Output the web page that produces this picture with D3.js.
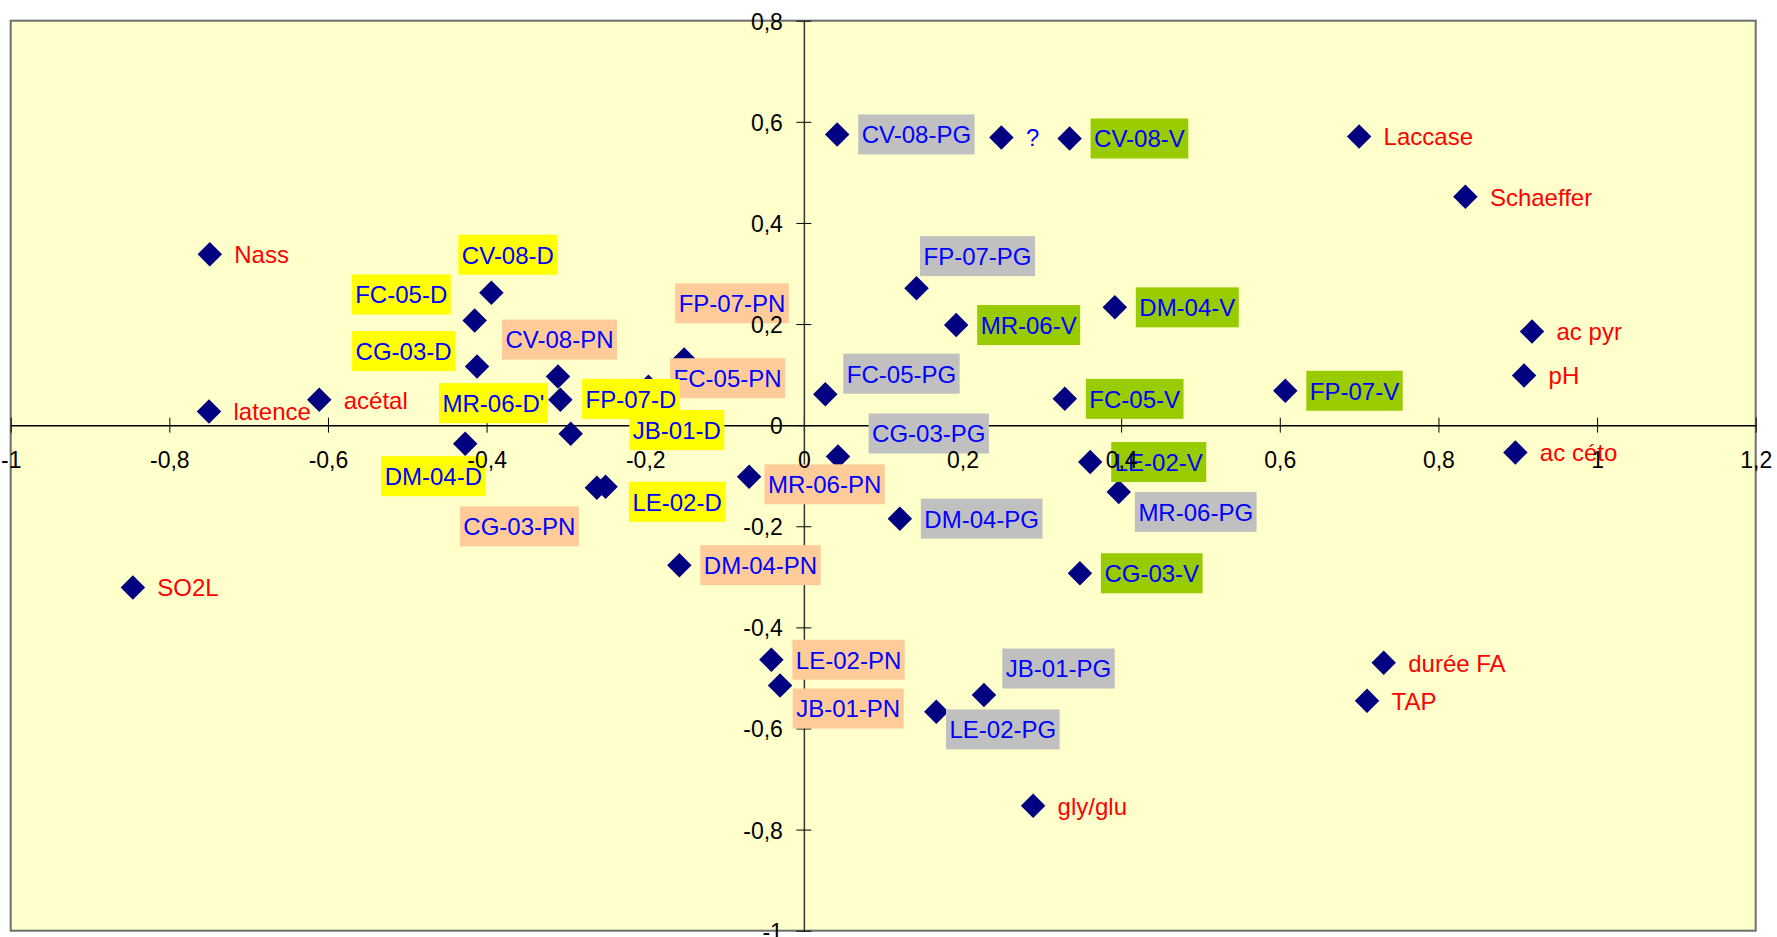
<!DOCTYPE html>
<html>
<head>
<meta charset="utf-8">
<script src="https://cdn.jsdelivr.net/npm/d3@7"></script>
<style>
  html, body { margin: 0; padding: 0; background: #ffffff; overflow: hidden; }
  svg { display: block; }
</style>
</head>
<body>
<svg id="chart" width="1777" height="937"></svg>
<script>
// ---- Sample scores on axes 1 and 2 ----
const sampleLabels = [
  "CV-08-D", "FC-05-D", "CG-03-D", "MR-06-D'", "FP-07-D", "JB-01-D", "DM-04-D", "LE-02-D",
  "CV-08-PN", "FC-05-PN", "CG-03-PN", "MR-06-PN", "FP-07-PN", "DM-04-PN", "LE-02-PN", "JB-01-PN",
  "CV-08-PG", "FP-07-PG", "FC-05-PG", "CG-03-PG", "DM-04-PG", "MR-06-PG", "LE-02-PG", "JB-01-PG",
  "CV-08-V", "MR-06-V", "DM-04-V", "FC-05-V", "FP-07-V", "LE-02-V", "CG-03-V", "?"
];
const sampleGroups = [
  "D", "D", "D", "D", "D", "D", "D", "D",
  "PN", "PN", "PN", "PN", "PN", "PN", "PN", "PN",
  "PG", "PG", "PG", "PG", "PG", "PG", "PG", "PG",
  "V", "V", "V", "V", "V", "V", "V", "none"
];
const sampleX = [
  -0.394, -0.415, -0.412, -0.307, -0.196, -0.294, -0.427, -0.250,
  -0.310, -0.151, -0.261, -0.069, -0.091, -0.157, -0.041, -0.030,
   0.042,  0.142,  0.027,  0.043,  0.121,  0.397,  0.167,  0.227,
   0.335,  0.192,  0.392,  0.329,  0.607,  0.361,  0.348,  0.249
];
const sampleY = [
   0.262,  0.207,  0.116,  0.050,  0.076, -0.017, -0.037, -0.122,
   0.096,  0.130, -0.124, -0.102,  0.241, -0.277, -0.464, -0.515,
   0.575,  0.271,  0.061, -0.062, -0.185, -0.132, -0.567, -0.534,
   0.567,  0.198,  0.233,  0.052,  0.068, -0.073, -0.293,  0.569
];

// ---- Variable loadings ----
const variableLabels = [
  "Nass", "latence", "acétal", "SO2L", "Laccase", "Schaeffer",
  "ac pyr", "pH", "ac céto", "durée FA", "TAP", "gly/glu"
];
const variableX = [-0.749, -0.750, -0.611, -0.846, 0.700, 0.834, 0.918, 0.908, 0.897, 0.731, 0.710, 0.289];
const variableY = [ 0.338,  0.027,  0.050, -0.321, 0.571, 0.452, 0.185, 0.098, -0.054, -0.470, -0.545, -0.753];

// ---- Axis ticks ----
const xTickValues = [-1, -0.8, -0.6, -0.4, -0.2, 0, 0.2, 0.4, 0.6, 0.8, 1, 1.2];
const xTickLabels = ["-1", "-0,8", "-0,6", "-0,4", "-0,2", "0", "0,2", "0,4", "0,6", "0,8", "1", "1,2"];
const yTickValues = [-1, -0.8, -0.6, -0.4, -0.2, 0, 0.2, 0.4, 0.6, 0.8];
const yTickLabels = ["-1", "-0,8", "-0,6", "-0,4", "-0,2", "0", "0,2", "0,4", "0,6", "0,8"];

// ---- Layout and styling ----
const plot = { left: 10.7, right: 1755.7, top: 20.7, bottom: 930.7 };
const groupFill = { D: "#FFFF00", PN: "#FFCC99", PG: "#C0C0C0", V: "#99CC00", none: "none", variable: "none" };
const labelFont = "'Liberation Sans', Arial, sans-serif";
const labelSize = 24;
const tickSize = 23;
const boxHeight = 40;
const boxPad = 3.5;
const defaultNudge = { dx: 21, dy: 0 };
// manual placement of label boxes (pixels from the marker centre)
const labelNudge = {
  "CV-08-D": { dx: -33, dy: -38 },
  "FC-05-D": { dx: -123, dy: -26 },
  "CG-03-D": { dx: -125, dy: -15.4 },
  "CV-08-PN": { dx: -56, dy: -37 },
  "MR-06-D'": { dx: -121.4, dy: 3.3 },
  "FP-07-D": { dx: -66.3, dy: 12.2 },
  "JB-01-D": { dx: 58.6, dy: -3.7 },
  "DM-04-D": { dx: -84, dy: 32.3 },
  "CG-03-PN": { dx: -137, dy: 38.6 },
  "LE-02-D": { dx: 23.3, dy: 15 },
  "FC-05-PN": { dx: -14, dy: 18.8 },
  "FP-07-PN": { dx: -56.5, dy: 0 },
  "MR-06-PN": { dx: 15.3, dy: 7.6 },
  "JB-01-PN": { dx: 12.6, dy: 23 },
  "FP-07-PG": { dx: 3.5, dy: -32 },
  "FC-05-PG": { dx: 18, dy: -20.6 },
  "CG-03-PG": { dx: 30.6, dy: -23 },
  "MR-06-PG": { dx: 16.1, dy: 20 },
  "LE-02-PG": { dx: 9.6, dy: 17.6 },
  "JB-01-PG": { dx: 18.4, dy: -26.6 }
};

const samples = sampleLabels.map((label, i) => ({
  label, group: sampleGroups[i], x: sampleX[i], y: sampleY[i], color: "#0000FF"
}));
const variables = variableLabels.map((label, i) => ({
  label, group: "variable", x: variableX[i], y: variableY[i], color: "#FF0000"
}));
const allPoints = samples.concat(variables);

const svg = d3.select("#chart");
const x = d3.scaleLinear().domain([-1, 1.2]).range([plot.left, plot.right]);
const y = d3.scaleLinear().domain([-1, 0.8]).range([plot.bottom, plot.top]);

// plot background
svg.append("rect")
  .attr("x", plot.left).attr("y", plot.top)
  .attr("width", plot.right - plot.left).attr("height", plot.bottom - plot.top)
  .attr("fill", "#FFFFCC")
  .attr("stroke", "#6e6e6e").attr("stroke-width", 2);

// axis lines and tick marks through the origin
const xAxisLines = svg.append("g")
  .attr("transform", `translate(0,${y(0)})`)
  .call(d3.axisBottom(x).tickValues(xTickValues).tickFormat("").tickSizeOuter(0));
xAxisLines.selectAll(".tick line").attr("y1", -7.5).attr("y2", 7.5).attr("stroke", "#000");
xAxisLines.select(".domain").attr("stroke", "#000").attr("stroke-width", 1.5);
xAxisLines.selectAll("text").remove();

const yAxisLines = svg.append("g")
  .attr("transform", `translate(${x(0)},0)`)
  .call(d3.axisLeft(y).tickValues(yTickValues).tickFormat("").tickSizeOuter(0));
yAxisLines.selectAll(".tick line").attr("x1", -7.5).attr("x2", 7.5).attr("stroke", "#000");
yAxisLines.select(".domain").attr("stroke", "#333").attr("stroke-width", 1.5);
yAxisLines.selectAll("text").remove();

// diamond markers
const diamond = d3.symbol().type(d3.symbolSquare).size(300);
svg.append("g").selectAll("path")
  .data(allPoints)
  .join("path")
  .attr("d", diamond)
  .attr("transform", d => `translate(${x(d.x)},${y(d.y)}) rotate(45)`)
  .attr("fill", "#000080");

// data labels (boxes drawn above the markers)
const labelOrder = ["PN", "PG", "V", "none", "D", "variable"];
const ordered = allPoints.slice().sort((a, b) => labelOrder.indexOf(a.group) - labelOrder.indexOf(b.group));
const labelG = svg.append("g");
ordered.forEach(d => {
  const n = labelNudge[d.label] || defaultNudge;
  const bx = x(d.x) + n.dx;
  const cy = y(d.y) + n.dy;
  const g = labelG.append("g");
  const rect = g.append("rect").attr("fill", groupFill[d.group]);
  const t = g.append("text")
    .attr("x", bx + boxPad)
    .attr("y", cy)
    .attr("dy", "0.37em")
    .attr("font-family", labelFont)
    .attr("font-size", labelSize)
    .attr("fill", d.color)
    .text(d.label);
  const w = t.node().getComputedTextLength();
  rect.attr("x", bx).attr("y", cy - boxHeight / 2)
    .attr("width", w + 2 * boxPad).attr("height", boxHeight);
});

// tick labels on top
const xAxisText = svg.append("g")
  .attr("transform", `translate(0,${y(0)})`)
  .call(d3.axisBottom(x).tickValues(xTickValues).tickFormat((d, i) => xTickLabels[i]).tickSize(0));
xAxisText.select(".domain").remove();
xAxisText.selectAll("text")
  .attr("y", 43).attr("dy", 0)
  .attr("font-family", labelFont).attr("font-size", tickSize).attr("fill", "#000");

const yAxisText = svg.append("g")
  .attr("transform", `translate(${x(0)},0)`)
  .call(d3.axisLeft(y).tickValues(yTickValues).tickFormat((d, i) => yTickLabels[i]).tickSize(0));
yAxisText.select(".domain").remove();
yAxisText.selectAll("text")
  .attr("x", -21).attr("dy", "0.37em")
  .attr("font-family", labelFont).attr("font-size", tickSize).attr("fill", "#000");
</script>
</body>
</html>
